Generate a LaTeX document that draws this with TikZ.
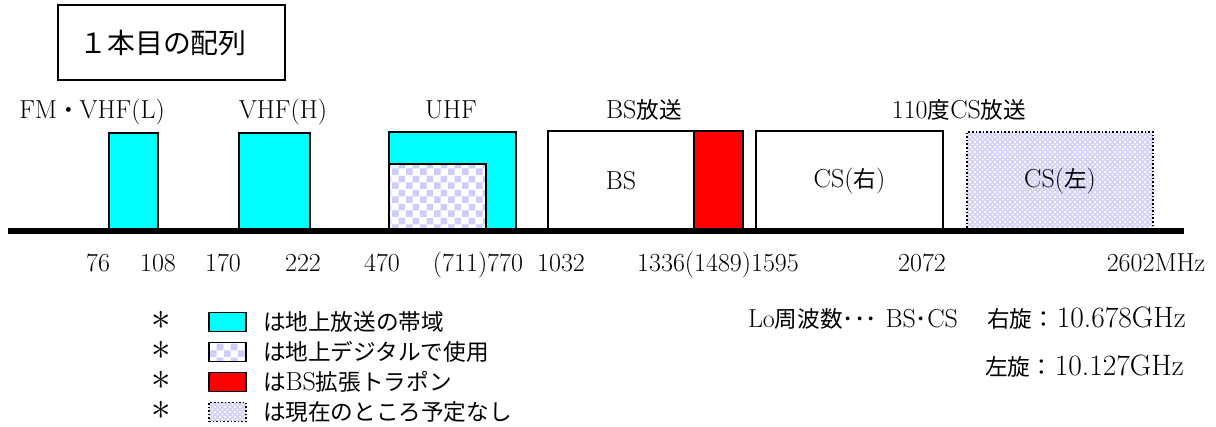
\documentclass[tikz,border=0pt]{standalone}
\usepackage{fontspec}
\usetikzlibrary{patterns}
\newfontfamily\jpf[Scale=0.87]{Noto Sans CJK JP}
\definecolor{cy}{RGB}{0,255,255}
\definecolor{chk}{RGB}{204,204,255}
\definecolor{lav}{RGB}{210,210,250}
\pgfdeclarepatternformonly{chkpat}{\pgfpointorigin}{\pgfpoint{14pt}{14pt}}{\pgfpoint{14pt}{14pt}}{%
  \pgfpathrectangle{\pgfpointorigin}{\pgfpoint{7pt}{7pt}}%
  \pgfpathrectangle{\pgfpoint{7pt}{7pt}}{\pgfpoint{7pt}{7pt}}%
  \pgfusepath{fill}}
\pgfdeclarepatternformonly{xhatch}{\pgfpoint{-1pt}{-1pt}}{\pgfpoint{6pt}{6pt}}{\pgfpoint{5pt}{5pt}}{%
  \pgfsetlinewidth{0.9pt}%
  \pgfpathmoveto{\pgfpoint{-0.5pt}{-0.5pt}}\pgfpathlineto{\pgfpoint{5.5pt}{5.5pt}}%
  \pgfpathmoveto{\pgfpoint{-0.5pt}{5.5pt}}\pgfpathlineto{\pgfpoint{5.5pt}{-0.5pt}}%
  \pgfusepath{stroke}}
\begin{document}
\begin{tikzpicture}[x=1pt,y=-1pt,
  every node/.style={font=\fontsize{26}{30}\selectfont, inner sep=0pt, outer sep=0pt},
  band/.style={draw=black, line width=1.6pt, anchor=south west},
  chkr/.style={preaction={fill=white}, pattern=chkpat, pattern color=chk},
  csl/.style={preaction={fill=lav}, pattern=xhatch, pattern color=white},
  keybox/.style={draw=black, line width=1.6pt, minimum width=37pt, minimum height=19pt},
  lbl/.style={anchor=base},
  star/.style={anchor=base, font=\fontsize{12}{13}\selectfont},
  lotext/.style={font=\fontsize{29.5}{33}\selectfont},
]
\useasboundingbox (0,0) rectangle (1216,427);
\fill[white] (0,0) rectangle (1216,427);

% title
\node[draw=black, line width=1.3pt, minimum width=227pt, minimum height=75pt] (ttl) at (171.5,42.5) {};
\node[font=\fontsize{32}{36}\selectfont] (ttltxt) at (163,43) {\jpf １本目の配列};

% band labels
\node[lbl] (lfm) at (92,119) {FM{\jpf ・}VHF(L)};
\node[lbl] (lvh) at (283,119) {VHF(H)};
\node[lbl] (luhf) at (451,119) {UHF};
\node[lbl] (lbs) at (644,119) {BS{\jpf 放送}};
\node[lbl] (lcs) at (959,119) {110{\jpf 度}CS{\jpf 放送}};

% bands
\node[band, fill=cy, minimum width=49pt, minimum height=98pt] (bfm) at (109,231) {};
\node[band, fill=cy, minimum width=71pt, minimum height=98pt] (bvh) at (239,231) {};
\node[band, fill=cy, minimum width=127pt, minimum height=99pt] (buhf) at (389,231) {};
\node[band, chkr, minimum width=97pt, minimum height=67pt] (bdig) at (389,231) {};
\node[band, fill=white, minimum width=146pt, minimum height=100pt] (bbs) at (548,231) {BS};
\node[band, fill=red, minimum width=49pt, minimum height=100pt] (bbsx) at (694,231) {};
\node[band, fill=white, minimum width=187pt, minimum height=100pt] (bcsr) at (756,231) {CS({\jpf 右})};
\node[band, csl, dotted, line width=1.5pt, minimum width=186pt, minimum height=99pt] (bcsl) at (967,231) {CS({\jpf 左})};

% axis
\coordinate (axL) at (8,231);
\coordinate (axR) at (1184,231);
\draw[line width=5.5pt] (axL) -- (axR);

% frequencies
\node[lbl] (n76) at (98,272) {76};
\node[lbl] (n108) at (158,272) {108};
\node[lbl] (n170) at (223,272) {170};
\node[lbl] (n222) at (303,272) {222};
\node[lbl] (n470) at (382,272) {470};
\node[lbl] (n770) at (478,272) {(711)770};
\node[lbl] (n1032) at (561,272) {1032};
\node[lbl] (n1336) at (718,272) {1336(1489)1595};
\node[lbl] (n2072) at (922,272) {2072};
\node[lbl] (n2602) at (1156,272) {2602MHz};

% legend
\node[star] (a1) at (161,330) {\scalebox{3.25}{$\ast$}};
\node[star] (a2) at (161,360) {\scalebox{3.25}{$\ast$}};
\node[star] (a3) at (161,390) {\scalebox{3.25}{$\ast$}};
\node[star] (a4) at (161,420) {\scalebox{3.25}{$\ast$}};
\node[keybox, fill=cy] (k1) at (227.5,322) {};
\node[keybox, chkr] (k2) at (227.5,352) {};
\node[keybox, fill=red] (k3) at (227.5,382) {};
\node[keybox, csl, dotted] (k4) at (227.5,412) {};
\node[anchor=west] (t1) at (263,322) {\jpf は地上放送の帯域};
\node[anchor=west] (t2) at (263,352) {\jpf は地上デジタルで使用};
\node[anchor=west] (t3) at (263,382) {{\jpf は}BS{\jpf 拡張トラポン}};
\node[anchor=west] (t4) at (263,412) {\jpf は現在のところ予定なし};

% Lo
\node[anchor=base west] (lo1) at (748,328) {Lo{\jpf 周波数･･･}\hspace{9pt}BS{\jpf ･}CS};
\node[anchor=base west, lotext] (lo1b) at (987,328) {{\fontsize{26}{30}\selectfont\jpf 右旋}{\fontsize{26}{30}\selectfont\jpf ：}\hspace{2pt}10.678GHz};
\node[anchor=base west, lotext] (lo2) at (985,376) {{\fontsize{26}{30}\selectfont\jpf 左旋}{\fontsize{26}{30}\selectfont\jpf ：}\hspace{2pt}10.127GHz};
\end{tikzpicture}
\end{document}
